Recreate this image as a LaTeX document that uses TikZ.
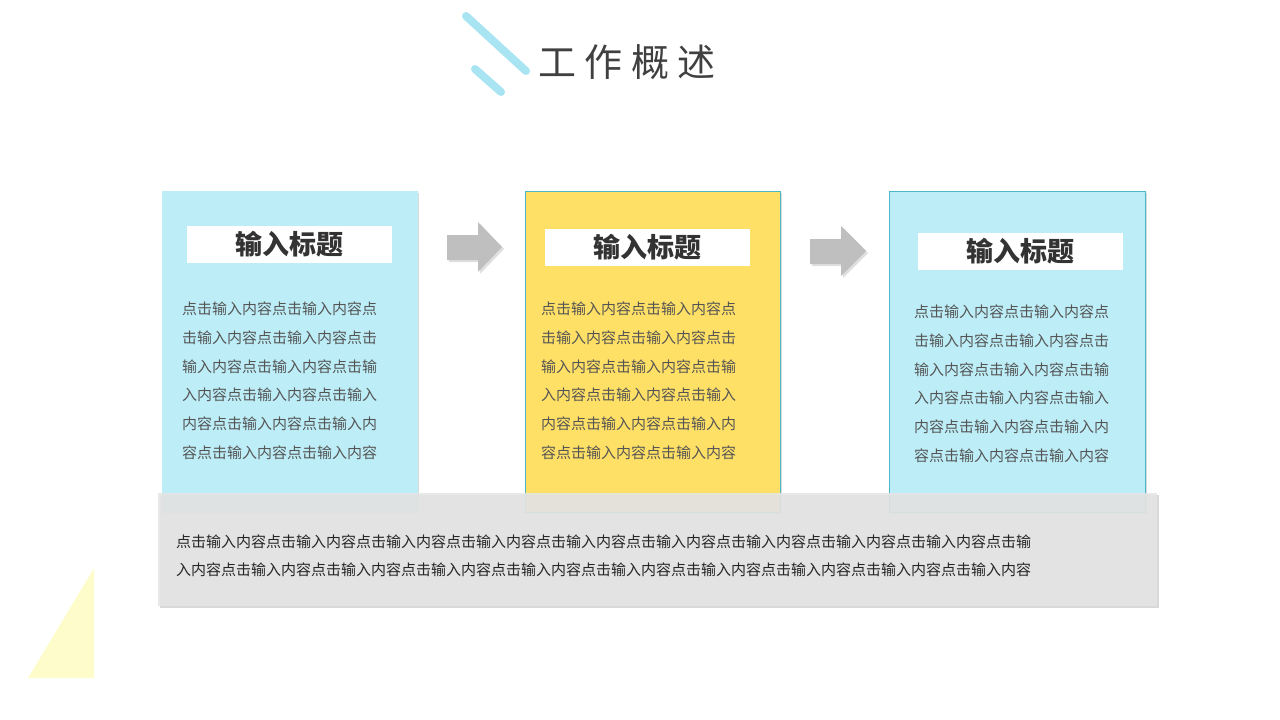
\documentclass[tikz,border=0pt]{standalone}
\usepackage{fontspec}
\setmainfont{Noto Sans CJK SC}
\usetikzlibrary{shadows}
\definecolor{lblue}{HTML}{BDEEF8}
\definecolor{lyel}{HTML}{FFE066}
\definecolor{teal1}{HTML}{4BB8C8}
\definecolor{deco}{HTML}{A9E4F2}
\definecolor{txt}{HTML}{555555}
\begin{document}
\begin{tikzpicture}[x=1pt,y=-1pt,
  card/.style={draw=#1,line width=0.6pt,drop shadow={shadow xshift=2pt,shadow yshift=-2pt,opacity=0.3}},
  head/.style={fill=white,minimum width=205,minimum height=37,inner sep=0pt,font=\bfseries\fontsize{27}{30}\selectfont,text=black!80},
  body/.style={anchor=west,inner sep=0pt,font=\fontsize{15}{15}\selectfont,text=txt},
  arr/.style={fill=black!25,drop shadow={shadow xshift=2pt,shadow yshift=-2pt,opacity=0.25}}]
\useasboundingbox (0,0) rectangle (1280,720);
% decoration
\draw[deco,line width=8pt,line cap=round] (466,16) -- (526,71);
\draw[deco,line width=8pt,line cap=round] (475,69) -- (501,92);
\node[anchor=west,inner sep=0pt,font=\fontsize{38}{40}\selectfont,text=black!75] (title) at (538,62) {工 作 概 述};
\fill[yellow!20] (28,678) -- (94,678) -- (94,568) -- cycle;
% cards
\path[card=lblue,fill=lblue] (162,191) rectangle (417,512);
\path[card=lyel,fill=lyel] (525,191) rectangle (780,512);
\draw[teal1,line width=0.6pt] (525,191) rectangle (780,512);
\path[card=lblue,fill=lblue] (889,191) rectangle (1145,512);
\draw[teal1,line width=0.6pt] (889,191) rectangle (1145,512);
\node[head] (h1) at (289,244) {输入标题};
\node[head] (h2) at (647,247) {输入标题};
\node[head] (h3) at (1020,251) {输入标题};
\foreach \x/\y [count=\c] in {182/309,541/309,914/312}{
  \node[body] (b\c a) at (\x,\y) {点击输入内容点击输入内容点};
  \node[body] (b\c b) at (\x,\y+28.7) {击输入内容点击输入内容点击};
  \node[body] (b\c c) at (\x,\y+57.4) {输入内容点击输入内容点击输};
  \node[body] (b\c d) at (\x,\y+86.1) {入内容点击输入内容点击输入};
  \node[body] (b\c e) at (\x,\y+114.8) {内容点击输入内容点击输入内};
  \node[body] (b\c f) at (\x,\y+143.5) {容点击输入内容点击输入内容};
}
% arrows
\path[arr] (447,235) -- (478,235) -- (478,222) -- (502,247) -- (478,272) -- (478,260) -- (447,260) -- cycle;
\path[arr] (810,239) -- (841,239) -- (841,226) -- (866,251) -- (841,276) -- (841,264) -- (810,264) -- cycle;
% bottom panel
\path[fill=black!10,fill opacity=0.9,drop shadow={shadow xshift=2pt,shadow yshift=-2pt,opacity=0.3}] (158,493) rectangle (1157,606);
\node[body,text=black!85] (l1) at (176,542) {点击输入内容点击输入内容点击输入内容点击输入内容点击输入内容点击输入内容点击输入内容点击输入内容点击输入内容点击输};
\node[body,text=black!85] (l2) at (176,570) {入内容点击输入内容点击输入内容点击输入内容点击输入内容点击输入内容点击输入内容点击输入内容点击输入内容点击输入内容};
\end{tikzpicture}
\end{document}
